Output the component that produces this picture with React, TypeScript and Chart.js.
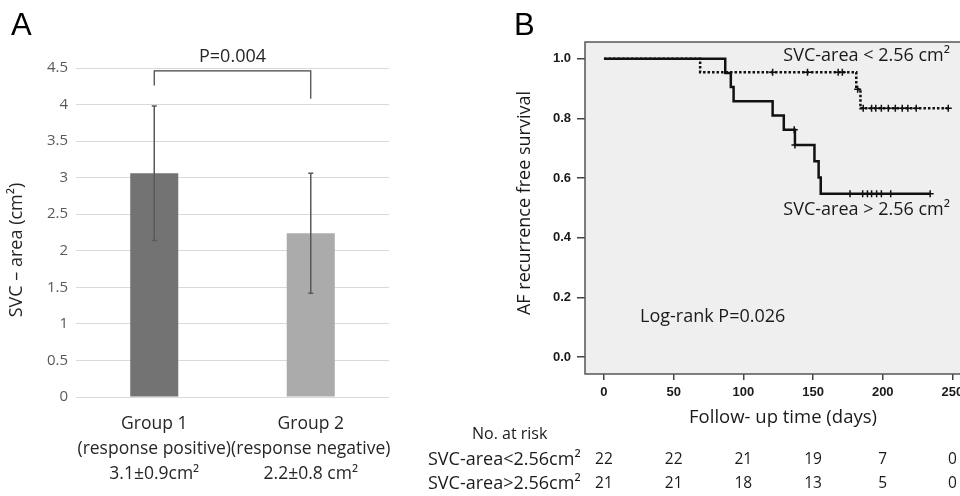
import React, { useEffect, useRef } from 'react';
import { Chart, registerables } from 'chart.js';
Chart.register(...registerables);

// ---------- Panel A data ----------
const groupLabels = [
  ['Group 1', '(response positive)', '3.1±0.9cm²'],
  ['Group 2', '(response negative)', '2.2±0.8 cm²'],
];
const groupMeans = [3.06, 2.24];
const groupSD = [0.92, 0.82];
const barColors = ['#737373', '#ababab'];
const yTicksA = [0, 0.5, 1, 1.5, 2, 2.5, 3, 3.5, 4, 4.5];
const pValueA = 'P=0.004';
const bracketLevels = [4.46, 4.26, 4.08]; // top, left leg end, right leg end

// ---------- Panel B data ----------
const kmTicksX = [0, 50, 100, 150, 200, 250];
const kmTicksY = [0, 0.2, 0.4, 0.6, 0.8, 1.0];
const lowTimes = [0, 69, 181, 184, 247];
const lowSurv = [1.0, 0.955, 0.898, 0.834, 0.834];
const lowCensor = [121, 146, 168, 171, 182, 186, 192, 195, 199, 204, 209, 214, 218, 224, 247];
const highTimes = [0, 87, 91, 93, 121, 129, 137, 151, 154, 155.5, 234];
const highSurv = [1.0, 0.952, 0.905, 0.857, 0.81, 0.762, 0.711, 0.656, 0.602, 0.547, 0.547];
const highCensor = [136.5, 137, 176.5, 185.6, 189, 192, 195.6, 199, 205.7, 234];
const atRiskLow = [22, 22, 21, 19, 7, 0];
const atRiskHigh = [21, 21, 18, 13, 5, 0];
const labelLow = 'SVC-area < 2.56 cm²';
const labelHigh = 'SVC-area > 2.56 cm²';
const rowLabelLow = 'SVC-area<2.56cm²';
const rowLabelHigh = 'SVC-area>2.56cm²';
const logRank = 'Log-rank P=0.026';

const SANS = '"Open Sans", "Noto Sans", sans-serif';
const ARIAL = '"Liberation Sans", Arial, sans-serif';

function survAt(times: number[], surv: number[], t: number) {
  let v = surv[0];
  for (let i = 0; i < times.length; i++) if (times[i] <= t) v = surv[i];
  return v;
}

function PanelA() {
  const ref = useRef<HTMLCanvasElement>(null);
  useEffect(() => {
    const annot = {
      id: 'annotA',
      afterDatasetsDraw(chart: any) {
        const { ctx } = chart;
        const x = chart.scales.x;
        const y = chart.scales.y;
        ctx.save();
        ctx.strokeStyle = '#595959';
        ctx.lineWidth = 1.5;
        groupMeans.forEach((m, i) => {
          const cx = x.getPixelForValue(i);
          const top = y.getPixelForValue(m + groupSD[i]);
          const bot = y.getPixelForValue(m - groupSD[i]);
          ctx.beginPath();
          ctx.moveTo(cx, top);
          ctx.lineTo(cx, bot);
          ctx.moveTo(cx - 2.5, top);
          ctx.lineTo(cx + 2.5, top);
          ctx.moveTo(cx - 2.5, bot);
          ctx.lineTo(cx + 2.5, bot);
          ctx.stroke();
        });
        // bracket
        const x1 = x.getPixelForValue(0);
        const x2 = x.getPixelForValue(1);
        ctx.strokeStyle = '#404040';
        ctx.lineWidth = 1.2;
        ctx.beginPath();
        ctx.moveTo(x1, y.getPixelForValue(bracketLevels[1]));
        ctx.lineTo(x1, y.getPixelForValue(bracketLevels[0]));
        ctx.lineTo(x2, y.getPixelForValue(bracketLevels[0]));
        ctx.lineTo(x2, y.getPixelForValue(bracketLevels[2]));
        ctx.stroke();
        ctx.fillStyle = '#262626';
        ctx.font = `18px ${SANS}`;
        ctx.textAlign = 'center';
        ctx.textBaseline = 'middle';
        ctx.fillText(pValueA, (x1 + x2) / 2, y.getPixelForValue(bracketLevels[0]) - 14);
        // panel letter
        ctx.font = `31px ${ARIAL}`;
        ctx.fillStyle = '#000';
        ctx.textAlign = 'left';
        ctx.textBaseline = 'alphabetic';
        ctx.fillText('A', 11, 35);
        // y title
        ctx.save();
        ctx.translate(17, 250);
        ctx.rotate(-Math.PI / 2);
        ctx.textAlign = 'center';
        ctx.textBaseline = 'middle';
        ctx.font = `18px ${SANS}`;
        ctx.fillStyle = '#262626';
        ctx.fillText('SVC – area (cm²)', 0, 0);
        ctx.restore();
        ctx.restore();
      },
    };
    const chart = new Chart(ref.current!, {
      type: 'bar',
      data: {
        labels: groupLabels as any,
        datasets: [
          {
            data: groupMeans,
            backgroundColor: barColors,
            borderWidth: 0,
            barPercentage: 0.307,
            categoryPercentage: 1,
          },
        ],
      },
      options: {
        responsive: false,
        animation: false,
        layout: { padding: { left: 0, right: 31, top: 68, bottom: 0 } },
        plugins: { legend: { display: false }, tooltip: { enabled: false } },
        scales: {
          x: {
            grid: { display: false },
            border: { display: false },
            ticks: {
              color: '#262626',
              font: { family: SANS, size: 17.5, lineHeight: 25 / 17.5 },
              padding: 7,
              maxRotation: 0,
              autoSkip: false,
            },
            afterFit(s: any) {
              s.height = 99;
            },
          },
          y: {
            min: 0,
            max: 4.5,
            grid: { color: '#d9d9d9', lineWidth: 1, drawTicks: false },
            border: { display: false },
            afterBuildTicks(s: any) {
              s.ticks = yTicksA.map((v) => ({ value: v }));
            },
            ticks: {
              color: '#595959',
              font: { family: SANS, size: 15 },
              padding: 8,
              callback: (v: any) => String(v),
            },
            afterFit(s: any) {
              s.width = 76;
            },
          },
        },
      },
      plugins: [annot],
    });
    return () => chart.destroy();
  }, []);
  return (
    <canvas
      ref={ref}
      width={420}
      height={496}
      style={{ position: 'absolute', left: 0, top: 0, width: 420, height: 496 }}
    />
  );
}

function PanelB() {
  const ref = useRef<HTMLCanvasElement>(null);
  useEffect(() => {
    const bg = {
      id: 'bgB',
      beforeDraw(chart: any) {
        const { ctx, chartArea: a } = chart;
        ctx.save();
        ctx.fillStyle = '#efefef';
        ctx.fillRect(a.left, a.top, a.right - a.left, a.bottom - a.top);
        ctx.restore();
      },
      afterDraw(chart: any) {
        const { ctx, chartArea: a } = chart;
        const x = chart.scales.x;
        ctx.save();
        ctx.strokeStyle = '#555';
        ctx.lineWidth = 1.5;
        ctx.strokeRect(a.left, a.top, a.right - a.left, a.bottom - a.top);
        ctx.fillStyle = '#000';
        ctx.font = `31px ${ARIAL}`;
        ctx.textAlign = 'left';
        ctx.textBaseline = 'alphabetic';
        ctx.fillText('B', 104, 35);
        ctx.fillStyle = '#1a1a1a';
        ctx.font = `18px ${SANS}`;
        ctx.textBaseline = 'middle';
        ctx.textAlign = 'right';
        ctx.fillText(labelLow, 540, 56);
        ctx.fillText(labelHigh, 540, 210);
        ctx.textAlign = 'left';
        ctx.fillText(logRank, 230, 317);
        ctx.textAlign = 'center';
        ctx.font = `18.5px ${SANS}`;
        ctx.fillText('Follow- up time (days)', 373, 418);
        ctx.save();
        ctx.translate(115, 203);
        ctx.rotate(-Math.PI / 2);
        ctx.font = `18px ${SANS}`;
        ctx.fillText('AF recurrence free survival', 0, 0);
        ctx.restore();
        // at-risk table
        ctx.font = `16px ${SANS}`;
        ctx.textAlign = 'left';
        ctx.fillText('No. at risk', 62, 434);
        ctx.font = `18px ${SANS}`;
        ctx.fillText(rowLabelLow, 18, 460);
        ctx.fillText(rowLabelHigh, 18, 484);
        ctx.font = `15.5px ${SANS}`;
        ctx.textAlign = 'center';
        kmTicksX.forEach((t, i) => {
          const px = x.getPixelForValue(t);
          ctx.fillText(String(atRiskLow[i]), px, 460);
          ctx.fillText(String(atRiskHigh[i]), px, 484);
        });
        ctx.restore();
      },
    };
    const chart = new Chart(ref.current!, {
      type: 'line',
      data: {
        datasets: [
          {
            data: lowTimes.map((t, i) => ({ x: t, y: lowSurv[i] })),
            borderColor: '#111',
            borderWidth: 2.5,
            borderDash: [2.5, 2],
            stepped: 'before',
            pointRadius: 0,
            fill: false,
          },
          {
            data: highTimes.map((t, i) => ({ x: t, y: highSurv[i] })),
            borderColor: '#111',
            borderWidth: 2.5,
            stepped: 'before',
            pointRadius: 0,
            fill: false,
          },
          {
            data: lowCensor.map((t) => ({ x: t, y: survAt(lowTimes, lowSurv, t) })),
            showLine: false,
            pointStyle: 'cross',
            pointRadius: 3.5,
            borderWidth: 1.5,
            borderColor: '#111',
          },
          {
            data: highCensor.map((t) => ({ x: t, y: survAt(highTimes, highSurv, t) })),
            showLine: false,
            pointStyle: 'cross',
            pointRadius: 3.5,
            borderWidth: 1.5,
            borderColor: '#111',
          },
        ],
      },
      options: {
        responsive: false,
        animation: false,
        layout: { padding: { left: 0, right: 33.6, top: 42, bottom: 0 } },
        plugins: { legend: { display: false }, tooltip: { enabled: false } },
        scales: {
          x: {
            type: 'linear',
            min: -13.6,
            max: 260,
            afterBuildTicks(s: any) {
              s.ticks = kmTicksX.map((v) => ({ value: v }));
            },
            grid: { drawOnChartArea: false, drawTicks: true, tickLength: 6, color: '#444', lineWidth: 1.5 },
            border: { display: false },
            ticks: {
              color: '#1a1a1a',
              font: { family: ARIAL, size: 13, weight: 'bold' },
              padding: 5,
              maxRotation: 0,
              autoSkip: false,
            },
            afterFit(s: any) {
              s.height = 122;
            },
          },
          y: {
            type: 'linear',
            min: -0.057,
            max: 1.056,
            afterBuildTicks(s: any) {
              s.ticks = kmTicksY.map((v) => ({ value: v }));
            },
            grid: { drawOnChartArea: false, drawTicks: true, tickLength: 8, color: '#444', lineWidth: 1.5 },
            border: { display: false },
            ticks: {
              color: '#1a1a1a',
              font: { family: ARIAL, size: 13, weight: 'bold' },
              padding: 6,
              callback: (v: any) => Number(v).toFixed(1),
            },
            afterFit(s: any) {
              s.width = 175;
            },
          },
        },
      },
      plugins: [bg],
    });
    return () => chart.destroy();
  }, []);
  return (
    <canvas
      ref={ref}
      width={590}
      height={496}
      style={{ position: 'absolute', left: 410, top: 0, width: 590, height: 496 }}
    />
  );
}

export default function App() {
  return (
    <div
      style={{
        position: 'fixed',
        left: 0,
        top: 0,
        width: 960,
        height: 496,
        overflow: 'hidden',
        background: '#fff',
      }}
    >
      <PanelA />
      <PanelB />
    </div>
  );
}
